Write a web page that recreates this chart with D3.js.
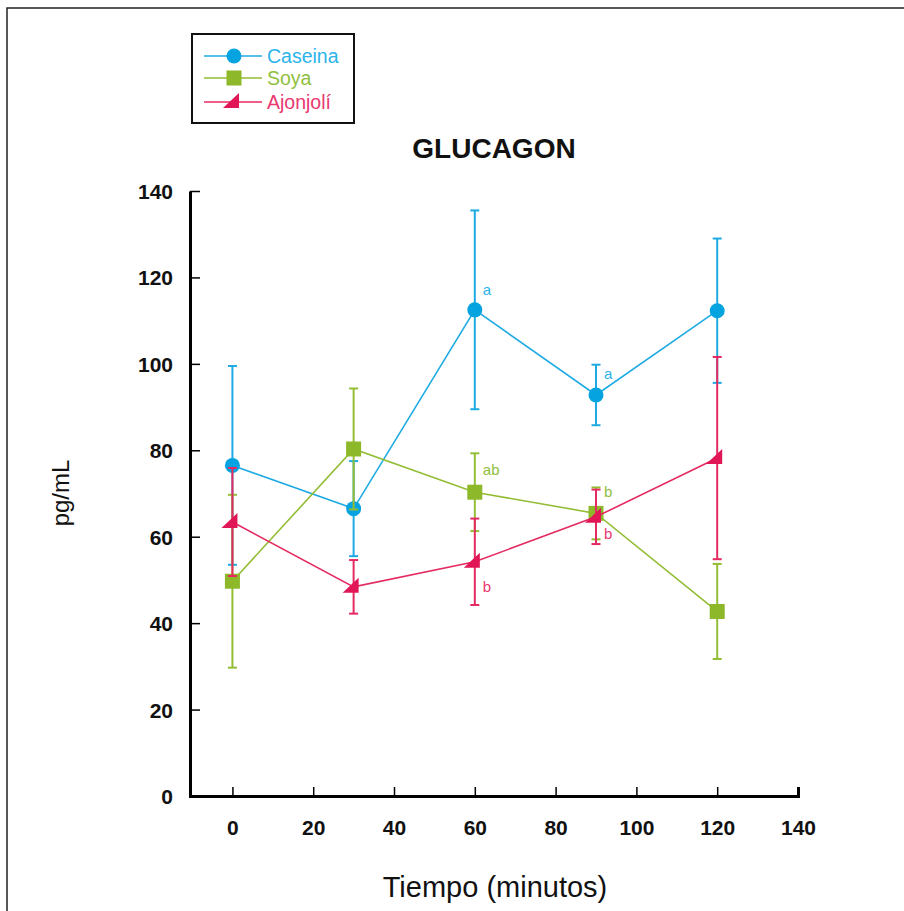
<!DOCTYPE html>
<html>
<head>
<meta charset="utf-8">
<script src="https://cdn.jsdelivr.net/npm/d3@7"></script>
<style>
  body { margin: 0; background: #fff; }
  svg { display: block; font-family: "Liberation Sans", Arial, sans-serif; }
</style>
</head>
<body>
<svg width="904" height="911"></svg>
<script>
const times = [0, 30, 60, 90, 120];
const caseina = [76.5, 66.5, 112.5, 92.8, 112.3];
const caseinaErr = [23, 11, 23, 7, 16.7];
const soya = [49.7, 80.3, 70.3, 65.4, 42.7];
const soyaErr = [20, 14, 9, 6, 11];
const ajonjoli = [63.4, 48.4, 54.2, 64.6, 78.2];
const ajonjoliErr = [12.5, 6.2, 10, 6.3, 23.4];
const xTicks = [0, 20, 40, 60, 80, 100, 120, 140];
const yTicks = [0, 20, 40, 60, 80, 100, 120, 140];

// letters of significance: series, time, text, value at baseline
const letters = [
  {s: 0, t: 60, text: 'a', v: 115.9},
  {s: 0, t: 90, text: 'a', v: 96.6},
  {s: 1, t: 60, text: 'ab', v: 74.2},
  {s: 1, t: 90, text: 'b', v: 69.2},
  {s: 2, t: 90, text: 'b', v: 59.4},
  {s: 2, t: 60, text: 'b', v: 47.3}
];

const series = [
  {name: 'Caseina', values: caseina, err: caseinaErr, color: '#1eaae3', mark: '#05a3df', text: '#2cb4ea', shape: 'circle'},
  {name: 'Soya', values: soya, err: soyaErr, color: '#93bd35', mark: '#8cb829', text: '#90c040', shape: 'square'},
  {name: 'Ajonjolí', values: ajonjoli, err: ajonjoliErr, color: '#e42a61', mark: '#e01656', text: '#e8386f', shape: 'triangle'}
];

const svg = d3.select('svg');

// outer frame
svg.append('path')
  .attr('d', 'M7,912 V8 H905')
  .attr('fill', 'none')
  .attr('stroke', '#222')
  .attr('stroke-width', 1.5);

const x = d3.scaleLinear().domain([-10.5, 140]).range([190, 798]);
const y = d3.scaleLinear().domain([0, 140]).range([796, 191]);

// axes
const xAxis = svg.append('g')
  .attr('transform', `translate(0,${y(0)})`)
  .call(d3.axisBottom(x).tickValues(xTicks).tickSizeInner(-9).tickSizeOuter(-9).tickPadding(20));
const yAxis = svg.append('g')
  .attr('transform', `translate(${x(-10.5)},0)`)
  .call(d3.axisLeft(y).tickValues(yTicks).tickSizeInner(-10).tickSizeOuter(0).tickPadding(17));

[xAxis, yAxis].forEach(g => {
  g.select('.domain').attr('stroke', '#000').attr('stroke-width', 3);
  g.selectAll('.tick line').attr('stroke', '#000').attr('stroke-width', 1.5);
  g.selectAll('.tick text')
    .attr('fill', '#111')
    .attr('font-size', 21)
    .attr('font-weight', 'bold')
    .attr('transform', null);
});
xAxis.selectAll('.tick text').attr('dy', '0.9em');
yAxis.selectAll('.tick text').attr('dy', '0.36em');

// titles
svg.append('text')
  .attr('x', 494).attr('y', 158)
  .attr('text-anchor', 'middle')
  .attr('font-size', 28).attr('font-weight', 'bold')
  .attr('fill', '#111')
  .text('GLUCAGON');

svg.append('text')
  .attr('transform', 'translate(69,493) rotate(-90)')
  .attr('text-anchor', 'middle')
  .attr('font-size', 24)
  .attr('fill', '#111')
  .text('pg/mL');

svg.append('text')
  .attr('x', 495).attr('y', 897)
  .attr('text-anchor', 'middle')
  .attr('font-size', 29)
  .attr('fill', '#111')
  .text('Tiempo (minutos)');

function drawMark(g, shape, cx, cy, color) {
  if (shape === 'circle') {
    g.append('circle').attr('cx', cx).attr('cy', cy).attr('r', 7.5).attr('fill', color);
  } else if (shape === 'square') {
    g.append('rect').attr('x', cx - 7.5).attr('y', cy - 7.5).attr('width', 15).attr('height', 15).attr('fill', color);
  } else {
    g.append('path')
      .attr('d', `M${cx - 11},${cy + 6} L${cx + 5},${cy + 6} L${cx + 5},${cy - 9} Z`)
      .attr('fill', color);
  }
}

const line = d3.line().x((d, i) => x(times[i])).y(d => y(d));

series.forEach(s => {
  const g = svg.append('g');
  // error bars
  s.values.forEach((v, i) => {
    const cx = x(times[i]);
    const hi = y(v + s.err[i]), lo = y(v - s.err[i]);
    g.append('line').attr('x1', cx).attr('x2', cx).attr('y1', hi).attr('y2', lo)
      .attr('stroke', s.color).attr('stroke-width', 2);
    [hi, lo].forEach(yy => g.append('line')
      .attr('x1', cx - 4.5).attr('x2', cx + 4.5).attr('y1', yy).attr('y2', yy)
      .attr('stroke', s.color).attr('stroke-width', 2));
  });
  g.append('path')
    .attr('d', line(s.values))
    .attr('fill', 'none')
    .attr('stroke', s.color)
    .attr('stroke-width', 1.6);
  s.values.forEach((v, i) => drawMark(g, s.shape, x(times[i]), y(v), s.mark));
});

// significance letters
svg.selectAll('.sig')
  .data(letters)
  .enter()
  .append('text')
  .attr('class', 'sig')
  .attr('x', d => x(d.t) + 8)
  .attr('y', d => y(d.v))
  .attr('font-size', 15)
  .attr('fill', d => series[d.s].text)
  .text(d => d.text);

// legend
const legend = svg.append('g');
legend.append('rect')
  .attr('x', 192).attr('y', 34).attr('width', 162).attr('height', 89)
  .attr('fill', '#fff').attr('stroke', '#111').attr('stroke-width', 2);
const legendY = [56, 78, 102];
series.forEach((s, i) => {
  const ly = legendY[i];
  legend.append('line').attr('x1', 204).attr('x2', 262).attr('y1', ly).attr('y2', ly)
    .attr('stroke', s.color).attr('stroke-width', 1.6);
  drawMark(legend, s.shape, 234, ly, s.mark);
  legend.append('text')
    .attr('x', 267).attr('y', ly).attr('dy', '0.36em')
    .attr('font-size', 19.5)
    .attr('fill', s.text)
    .text(s.name);
});
</script>
</body>
</html>
